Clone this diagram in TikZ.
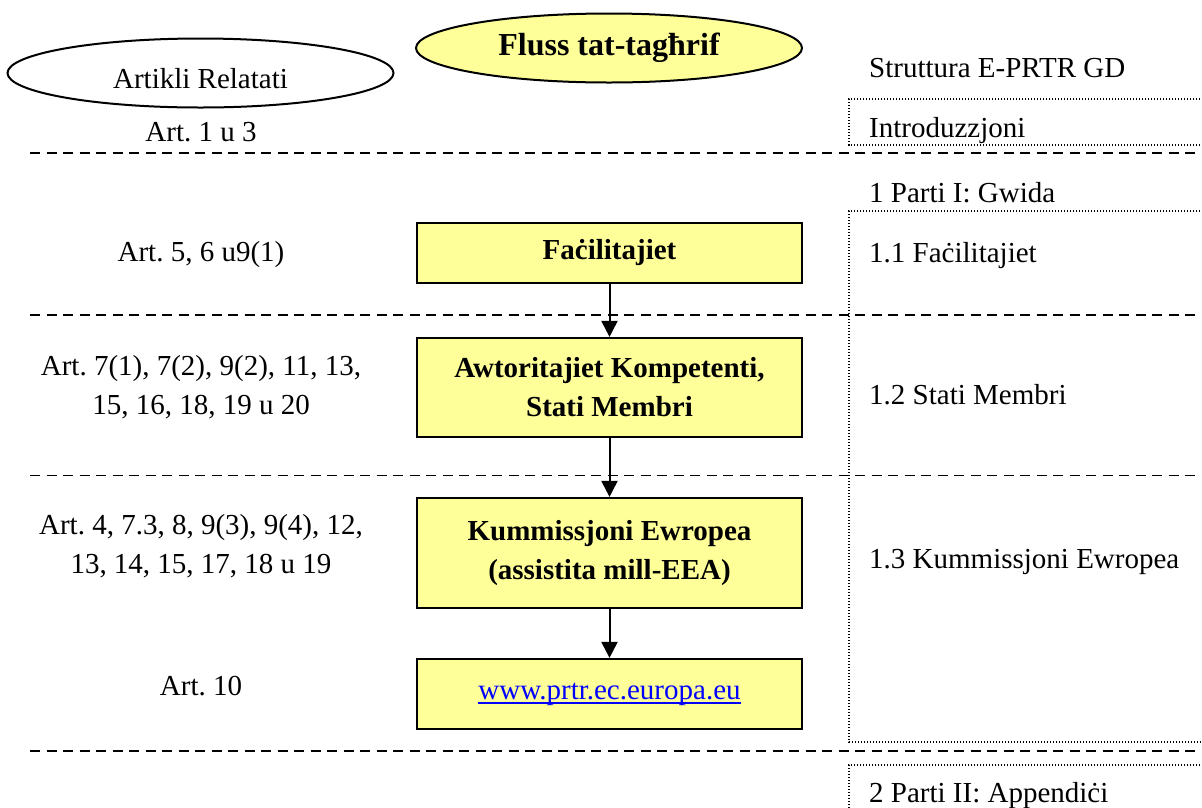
\documentclass[tikz,border=0pt]{standalone}
\usepackage{fontspec}
\setmainfont{Liberation Serif}
\usetikzlibrary{shapes.geometric,arrows.meta}
\definecolor{boxyellow}{HTML}{FFFF99}
\definecolor{linkblue}{HTML}{0000FF}
\newcommand{\ulinktext}[1]{\textcolor{linkblue}{\setbox0\hbox{#1}\rlap{\rule[-4.5pt]{\wd0}{1.5pt}}\box0}}
\frenchspacing
\begin{document}
\begin{tikzpicture}[x=1pt,y=-1pt,
  txt/.style={font=\fontsize{29}{39}\selectfont, inner sep=0pt, align=center},
  rtxt/.style={font=\fontsize{29}{39}\selectfont, inner sep=0pt, anchor=base west},
  flowbox/.style={draw=black, line width=2.2pt, fill=boxyellow, minimum width=385pt,
    inner sep=0pt, font=\fontsize{29}{39}\selectfont\bfseries, align=center},
  sepline/.style={line width=1.8pt, dash pattern=on 10pt off 6.5pt},
  dotbox/.style={line width=1.3pt, dash pattern=on 1.2pt off 1.8pt},
  flow/.style={line width=2pt, -{Triangle[width=16pt,length=16pt]}},
  oval/.style={ellipse, draw=black, line width=2pt, inner sep=0pt,
    minimum width=386pt, minimum height=69pt}
]
\useasboundingbox (0,0) rectangle (1202,807);
\clip (0,0) rectangle (1202,807);

% separators
\draw[sepline] (30,153) -- (1215,153);
\draw[sepline] (30,315) -- (1215,315);
\draw[sepline] (30,475.5) -- (1215,475.5);
\draw[sepline] (30,751) -- (1215,751);

% dotted boxes on the right
\draw[dotbox] (1215,99) -- (849,99) -- (849,145) -- (1215,145);
\draw[dotbox] (1215,211) -- (849,211) -- (849,742) -- (1215,742);
\draw[dotbox] (1215,765) -- (849,765) -- (849,830);

% header ellipses
\node[oval, fill=white, font=\fontsize{29}{39}\selectfont, text height=32pt, text depth=2pt]
  (rel) at (200.5,73) {Artikli Relatati};
\node[oval, fill=boxyellow, font=\fontsize{32}{39}\selectfont\bfseries]
  (title) at (609,48) {Fluss tat-tagħrif};

% right column
\node[rtxt] (struct) at (869,77) {Struttura E-PRTR GD};
\node[rtxt] (intro) at (869,137) {Introduzzjoni};
\node[rtxt] (part1) at (869,202) {1 Parti I: Gwida};
\node[rtxt] (s11) at (869,262) {1.1 Faċilitajiet};
\node[rtxt] (s12) at (869,404) {1.2 Stati Membri};
\node[rtxt] (s13) at (869,568) {1.3 Kummissjoni Ewropea};
\node[rtxt] (part2) at (869,802) {2 Parti II: Appendiċi};

% left column
\node[txt, anchor=base] (a1) at (201,141) {Art. 1 u 3};
\node[txt, anchor=base] (a2) at (201,261) {Art. 5, 6 u9(1)};
\node[txt] (a3) at (201,387.5) {Art. 7(1), 7(2), 9(2), 11, 13,\\15, 16, 18, 19 u 20};
\node[txt] (a4) at (201,546.5) {Art. 4, 7.3, 8, 9(3), 9(4), 12,\\13, 14, 15, 17, 18 u 19};
\node[txt, anchor=base] (a5) at (201,695) {Art. 10};

% flow boxes
\node[flowbox, minimum height=60pt] (b1) at (609.5,253) {Faċilitajiet};
\node[flowbox, minimum height=99pt] (b2) at (609.5,387.5) {Awtoritajiet Kompetenti,\\Stati Membri};
\node[flowbox, minimum height=110pt] (b3) at (609.5,553) {Kummissjoni Ewropea\\(assistita mill-EEA)};
\node[flowbox, minimum height=70pt, font=\fontsize{29}{39}\selectfont] (b4) at (609.5,694) {\ulinktext{www.prtr.ec.europa.eu}};

% arrows
\draw[flow] (b1.south) -- (b2.north);
\draw[flow] (b2.south) -- (b3.north);
\draw[flow] (b3.south) -- (b4.north);
\end{tikzpicture}
\end{document}
